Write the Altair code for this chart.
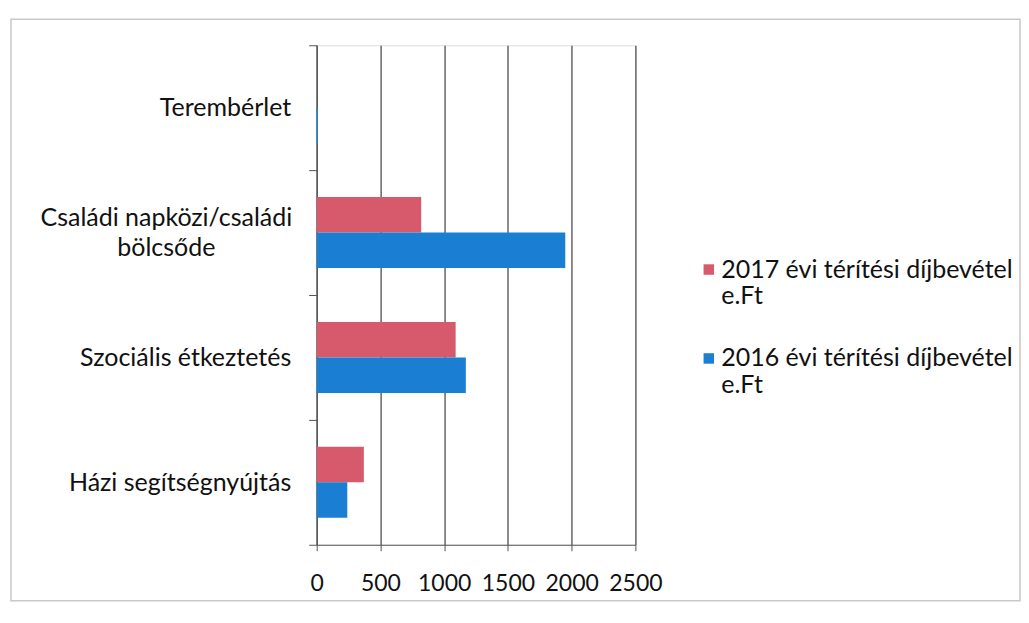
import altair as alt
import pandas as pd

categories = ["Terembérlet", "Családi napközi/családi bölcsőde", "Szociális étkeztetés", "Házi segítségnyújtás"]
series = ["2017 évi térítési díjbevétel e.Ft", "2016 évi térítési díjbevétel e.Ft"]
values_2017 = [0, 820, 1090, 370]
values_2016 = [10, 1950, 1170, 240]
x_ticks = [0, 500, 1000, 1500, 2000, 2500]
colors = ["#D65A6C", "#1A7FD3"]

rows = []
for c, v17, v16 in zip(categories, values_2017, values_2016):
    rows.append({"cat": c, "series": series[0], "value": v17})
    rows.append({"cat": c, "series": series[1], "value": v16})
df = pd.DataFrame(rows)

FONT = "Lato"
wrapped = categories[1]
is_wrapped = f"datum.value == '{wrapped}'"

frame = alt.Chart(alt.Data(values=[{"a": 1}])).mark_rect(
    fillOpacity=0, stroke="#c8c8c8", strokeWidth=1.5
).encode(
    x=alt.value(-306), x2=alt.value(704), y=alt.value(-26), y2=alt.value(556)
)

bars = alt.Chart(df).mark_bar().encode(
    y=alt.Y(
        "cat:N",
        sort=categories,
        title=None,
        scale=alt.Scale(paddingInner=0, paddingOuter=0),
        axis=alt.Axis(
            tickBand="extent",
            tickSize=8,
            tickColor="#555",
            domainColor="#555",
            domainWidth=1.2,
            labelFont=FONT,
            labelFontSize=25,
            labelColor="#111",
            labelPadding={"condition": {"test": is_wrapped, "value": 143}, "value": 18},
            labelAlign={"condition": {"test": is_wrapped, "value": "center"}, "value": "right"},
            labelOffset={"condition": {"test": is_wrapped, "value": -15}, "value": 0},
            labelExpr=f"{is_wrapped} ? ['Családi napközi/családi', 'bölcsőde'] : datum.value",
            labelLimit=400,
            labelLineHeight=30,
            grid=False,
        ),
    ),
    yOffset=alt.YOffset(
        "series:N", sort=series, scale=alt.Scale(paddingInner=0, paddingOuter=0.76)
    ),
    x=alt.X(
        "value:Q",
        title=None,
        scale=alt.Scale(domain=[0, 2500]),
        axis=alt.Axis(
            values=x_ticks,
            format="d",
            labelOverlap=False,
            labelFlush=False,
            grid=True,
            gridColor="#666",
            gridWidth=1.5,
            tickSize=6,
            tickColor="#555",
            domainColor="#555",
            domainWidth=1.2,
            labelFont=FONT,
            labelFontSize=23,
            labelColor="#111",
            labelPadding=22,
        ),
    ),
    color=alt.Color(
        "series:N",
        sort=series,
        scale=alt.Scale(domain=series, range=colors),
        legend=alt.Legend(
            title=None,
            orient="none",
            legendX=380,
            legendY=212,
            symbolType="square",
            symbolSize=110,
            symbolStrokeWidth=0,
            labelFont=FONT,
            labelFontSize=25,
            labelColor="#111",
            labelLimit=400,
            labelOffset=0,
            labelExpr="[replace(datum.label, ' e.Ft', ''), 'e.Ft']",
            rowPadding=36,
        ),
    ),
)

chart = alt.layer(frame, bars).properties(
    width=319,
    height=500,
    padding={"left": 2, "top": 10, "right": 0, "bottom": 0},
).configure_view(strokeWidth=0).configure(background="white")

chart.save("out.html", embed_options={"renderer": "svg", "actions": False})
